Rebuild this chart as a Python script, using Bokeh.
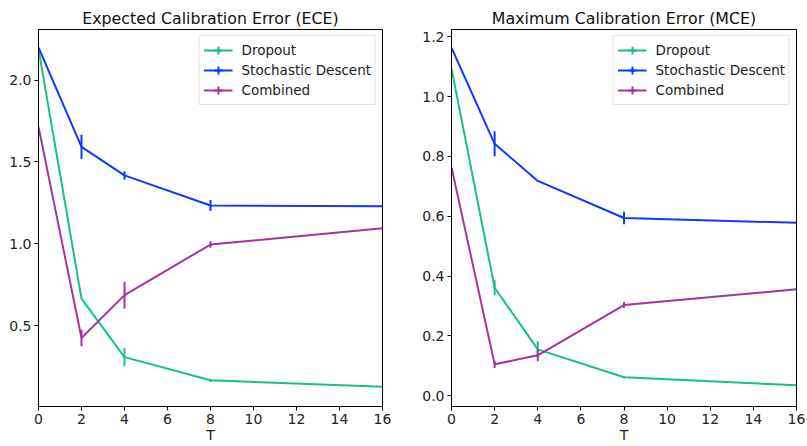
from bokeh.plotting import figure
from bokeh.layouts import row
from bokeh.models import ColumnDataSource, Range1d, FixedTicker, PrintfTickFormatter, Legend, LegendItem
from bokeh.embed import file_html
from bokeh.resources import INLINE

T = [0, 2, 4, 8, 16]
series_names = ["Dropout", "Stochastic Descent", "Combined"]
colors = ["#17bf8b", "#0a3bff", "#a6339f"]

ece_dropout = [2.19, 0.665, 0.307, 0.165, 0.125]
ece_dropout_err = [0, 0, 0.056, 0.01, 0]
ece_stoch = [2.2, 1.592, 1.418, 1.234, 1.23]
ece_stoch_err = [0, 0.074, 0.025, 0.034, 0]
ece_comb = [1.715, 0.424, 0.686, 0.995, 1.095]
ece_comb_err = [0, 0.05, 0.082, 0.02, 0]

mce_dropout = [1.093, 0.361, 0.155, 0.062, 0.035]
mce_dropout_err = [0, 0.025, 0.027, 0.004, 0]
mce_stoch = [1.163, 0.842, 0.718, 0.594, 0.578]
mce_stoch_err = [0, 0.042, 0, 0.021, 0]
mce_comb = [0.764, 0.105, 0.135, 0.303, 0.356]
mce_comb_err = [0, 0.012, 0.02, 0.01, 0]

x_ticks = [0, 2, 4, 6, 8, 10, 12, 14, 16]
ece_ticks = [0.5, 1.0, 1.5, 2.0]
mce_ticks = [0.0, 0.2, 0.4, 0.6, 0.8, 1.0, 1.2]

FONT = "DejaVu Sans"


def make(title, data, yr, yticks, width, bl, br):
    p = figure(width=width, height=446, output_backend="svg", toolbar_location=None,
               x_range=Range1d(0, 16), y_range=Range1d(*yr),
               min_border_left=bl, min_border_right=br, min_border_top=29, min_border_bottom=40)
    p.title.text = title
    p.title.align = "center"
    p.title.text_font = FONT
    p.title.text_font_size = "15.8px"
    p.title.text_font_style = "normal"
    p.title.text_color = "#111111"
    p.title.standoff = 4
    p.grid.visible = False
    p.outline_line_color = "black"
    p.outline_line_alpha = 1
    p.outline_line_width = 1
    for ax in (p.xaxis, p.yaxis):
        ax.major_label_text_font = FONT
        ax.major_label_text_font_size = "14px"
        ax.major_label_text_color = "#222222"
        ax.major_tick_out = 4
        ax.major_tick_in = 0
        ax.minor_tick_out = 0
        ax.minor_tick_in = 0
        ax.axis_line_color = "black"
        ax.major_tick_line_color = "black"
        ax.major_label_standoff = 3
    p.xaxis.ticker = FixedTicker(ticks=x_ticks)
    p.xaxis.formatter = PrintfTickFormatter(format="%d")
    p.yaxis.ticker = FixedTicker(ticks=yticks)
    p.yaxis.formatter = PrintfTickFormatter(format="%.1f")
    p.xaxis.axis_label = "T"
    p.xaxis.axis_label_text_font = FONT
    p.xaxis.axis_label_text_font_size = "14px"
    p.xaxis.axis_label_text_font_style = "normal"
    p.xaxis.axis_label_text_color = "#222222"
    p.xaxis.axis_label_standoff = 0

    items = []
    for name, col, (vals, errs) in zip(series_names, colors, data):
        src = ColumnDataSource(dict(T=T, y=vals,
                                    lo=[v - e for v, e in zip(vals, errs)],
                                    hi=[v + e for v, e in zip(vals, errs)],
                                    hidden=[float("nan")] * len(T)))
        lr = p.line("T", "y", source=src, line_width=2, line_color=col)
        p.segment(x0="T", y0="lo", x1="T", y1="hi", source=src, line_width=2, line_color=col)
        sr = p.scatter("T", "hidden", source=src, marker="cross", size=12, line_width=2, line_color=col)
        items.append(LegendItem(label=name, renderers=[lr, sr]))
    leg = Legend(items=items, location="top_right", margin=6, padding=4, spacing=0,
                 glyph_width=29, glyph_height=20, label_height=20, label_standoff=9,
                 label_text_font=FONT, label_text_font_size="13.5px", label_text_color="#222222",
                 border_line_color="#cccccc", border_line_width=1,
                 background_fill_color="white", background_fill_alpha=0.8)
    p.add_layout(leg)
    return p


p1 = make("Expected Calibration Error (ECE)",
          [(ece_dropout, ece_dropout_err), (ece_stoch, ece_stoch_err), (ece_comb, ece_comb_err)],
          (0.005, 2.31), ece_ticks, 404, 38, 22)
p2 = make("Maximum Calibration Error (MCE)",
          [(mce_dropout, mce_dropout_err), (mce_stoch, mce_stoch_err), (mce_comb, mce_comb_err)],
          (-0.036, 1.224), mce_ticks, 403, 47, 11)

layout = row(p1, p2)
open("out.html", "w").write(file_html(layout, INLINE))
